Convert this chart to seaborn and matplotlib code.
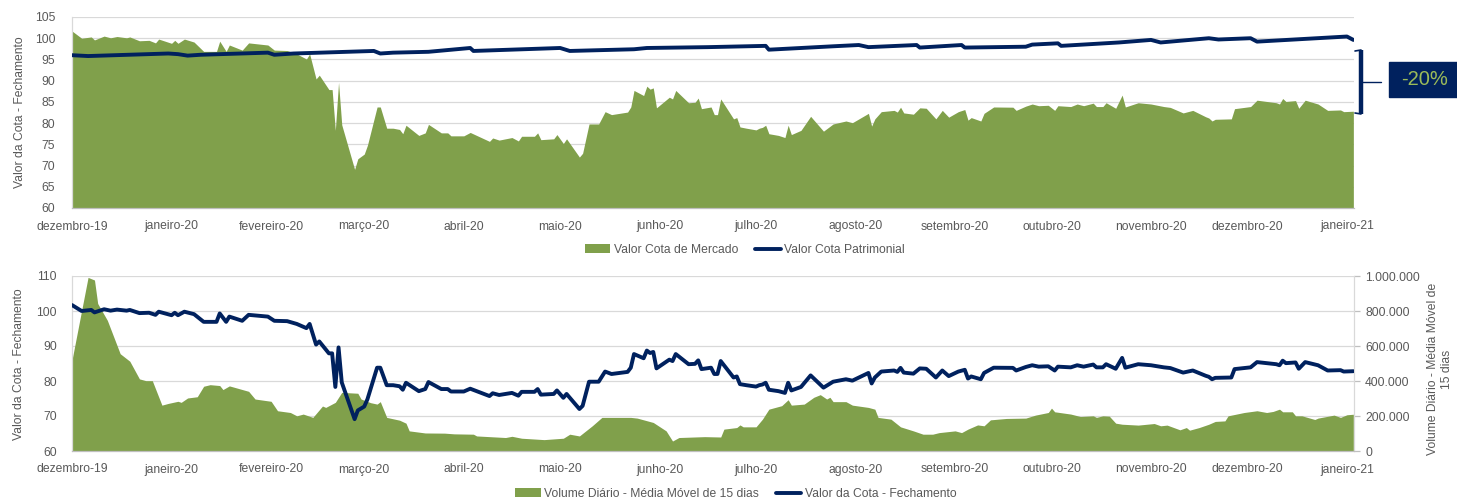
import numpy as np
import pandas as pd
import matplotlib
matplotlib.use("Agg")
import matplotlib.pyplot as plt
from matplotlib.lines import Line2D
from matplotlib.patches import Rectangle, Patch
from matplotlib.ticker import FuncFormatter
import seaborn as sns

# ---------------- data ----------------
START = pd.Timestamp("2019-12-01")

# Valor da Cota - Fechamento (market value), day offset from START
mkt_days = [0, 3, 6, 7, 10, 12, 14, 17, 18, 21,
            24, 26, 27, 31, 32, 33, 35, 38, 41, 45,
            46, 48, 49, 53, 55, 61, 63, 67, 70, 73,
            74, 76, 77, 80, 81, 82, 83, 84, 88, 89,
            91, 92, 95, 96, 98, 100, 102, 103, 104, 108,
            110, 111, 115, 117, 118, 122, 124, 130, 131, 133,
            137, 139, 140, 144, 145, 146, 150, 151, 153, 154,
            158, 159, 161, 164, 166, 168, 173, 174, 175, 178,
            179, 180, 181, 182, 186, 187, 188, 192, 194, 195,
            196, 199, 200, 201, 202, 206, 207, 208, 210, 213,
            214, 215, 216, 217, 220, 222, 223, 224, 227, 230,
            234, 237, 241, 243, 248, 249, 250, 252, 256, 257,
            258, 259, 262, 264, 266, 269, 271, 273, 276, 278,
            279, 280, 283, 284, 287, 293, 294, 297, 299, 301,
            304, 306, 307, 311, 313, 315, 318, 319, 321, 322,
            325, 327, 328, 332, 336, 340, 342, 346, 349, 353,
            354, 355, 356, 361, 362, 367, 369, 375, 376, 377,
            378, 381, 382, 384, 388, 391, 395, 396, 399]
mkt_vals = [101.7, 100.0, 100.3, 99.6, 100.5, 100.1, 100.4, 100.1, 100.3, 99.4,
            99.5, 98.9, 99.8, 98.8, 99.5, 98.8, 99.8, 99.1, 96.9, 96.9,
            99.3, 96.9, 98.4, 97.2, 98.9, 98.4, 97.2, 97.1, 96.3, 95.1,
            96.3, 90.4, 91.3, 87.9, 87.9, 78.3, 89.6, 79.6, 69.1, 71.6,
            72.7, 74.8, 83.8, 83.8, 78.8, 78.8, 78.5, 77.5, 79.5, 77.1,
            77.7, 79.7, 77.7, 77.7, 77.0, 77.0, 77.8, 75.7, 76.5, 76.0,
            76.6, 75.8, 76.9, 76.9, 77.7, 76.1, 76.3, 77.3, 75.2, 76.3,
            72.0, 72.9, 79.8, 79.8, 82.7, 82.0, 82.6, 83.8, 87.7, 86.5,
            88.7, 88.0, 88.3, 83.6, 86.1, 85.7, 87.7, 84.8, 84.9, 85.9,
            83.4, 83.8, 82.0, 82.0, 85.7, 81.0, 81.3, 79.1, 78.8, 78.4,
            78.8, 79.0, 79.5, 77.5, 77.1, 76.6, 79.5, 77.3, 78.3, 81.6,
            78.1, 79.8, 80.5, 80.1, 82.3, 79.3, 81.0, 82.7, 83.0, 82.6,
            83.75, 82.4, 82.1, 83.6, 83.5, 81.0, 83.0, 81.4, 82.7, 83.2,
            80.7, 81.3, 80.5, 82.3, 83.8, 83.75, 83.0, 84.0, 84.5, 84.1,
            84.2, 83.0, 84.1, 83.9, 84.5, 84.1, 84.7, 83.9, 83.9, 84.8,
            83.5, 86.6, 83.8, 84.8, 84.5, 83.9, 83.7, 82.4, 83.0, 81.5,
            81.2, 80.5, 80.9, 81.0, 83.4, 83.9, 85.4, 84.8, 84.5, 85.8,
            85.1, 85.3, 83.5, 85.4, 84.5, 83.0, 83.1, 82.7, 82.8]

# Valor Cota Patrimonial
pat_days = [0, 5, 30, 33, 36, 40, 61, 63, 69, 94, 96, 100, 111, 124, 125,
            152, 155, 175, 179, 198, 216, 217, 237, 245, 248, 263, 264, 277,
            278, 297, 299, 307, 308, 326, 336, 339, 354, 357, 367, 369, 397, 399]
pat_vals = [96.0, 95.8, 96.4, 96.25, 95.9, 96.1, 96.6, 96.1, 96.4, 97.0, 96.4,
            96.6, 96.8, 97.7, 97.0, 97.7, 97.0, 97.4, 97.7, 97.9, 98.2, 97.3,
            98.1, 98.4, 97.9, 98.4, 97.8, 98.4, 97.8, 98.0, 98.5, 98.8, 98.2,
            99.0, 99.6, 99.0, 100.0, 99.7, 100.0, 99.2, 100.4, 99.6]

# Volume Diário - Média Móvel de 15 dias (thousands)
vol_days = [0, 5, 7, 8, 11, 15, 18, 21, 23, 25,
            28, 30, 33, 34, 36, 39, 41, 43, 46, 47,
            49, 55, 57, 62, 64, 68, 70, 72, 75, 78,
            79, 82, 84, 89, 90, 93, 95, 96, 98, 102,
            104, 105, 110, 116, 119, 125, 126, 135, 137, 140,
            147, 153, 155, 158, 162, 165, 174, 176, 181, 185,
            187, 189, 197, 202, 203, 207, 208, 209, 213, 215,
            217, 221, 223, 224, 228, 231, 233, 235, 236, 237,
            241, 243, 248, 250, 251, 255, 258, 262, 265, 268,
            270, 275, 277, 279, 282, 284, 286, 291, 297, 300,
            304, 305, 306, 311, 314, 318, 319, 321, 323, 325,
            327, 332, 337, 339, 341, 345, 347, 348, 351, 354,
            356, 359, 360, 365, 369, 372, 374, 376, 377, 380,
            381, 383, 387, 388, 393, 395, 397, 399]
vol_vals_k = [520, 992, 977, 843, 747, 556, 513, 412, 402, 402,
              262, 272, 284, 278, 303, 310, 370, 379, 374, 351,
              372, 341, 297, 284, 230, 220, 201, 211, 192, 257,
              249, 278, 335, 330, 297, 276, 268, 282, 192, 176,
              159, 115, 103, 102, 98, 96, 86, 77, 84, 73,
              65, 73, 96, 86, 144, 192, 192, 188, 163, 115,
              57, 77, 82, 80, 125, 134, 149, 138, 138, 182,
              239, 259, 293, 262, 268, 307, 322, 297, 307, 282,
              282, 262, 249, 239, 192, 182, 138, 115, 96, 96,
              105, 115, 105, 125, 149, 144, 178, 186, 188, 205,
              220, 245, 224, 211, 197, 201, 192, 201, 199, 159,
              153, 148, 157, 144, 148, 121, 134, 119, 134, 153,
              169, 172, 201, 220, 230, 220, 226, 239, 224, 224,
              201, 201, 180, 188, 205, 192, 207, 210]

month_labels = ["dezembro-19", "janeiro-20", "fevereiro-20", "março-20", "abril-20",
                "maio-20", "junho-20", "julho-20", "agosto-20", "setembro-20",
                "outubro-20", "novembro-20", "dezembro-20", "janeiro-21"]

lbl_mkt_top = "Valor Cota de Mercado"
lbl_pat = "Valor Cota Patrimonial"
lbl_vol = "Volume Diário - Média Móvel de 15 dias"
lbl_close = "Valor da Cota - Fechamento"
ylabel_left = "Valor da Cota - Fechamento"
ylabel_right = "Volume Diário - Média Móvel de\n15 dias"
badge_text = "-20%"

# ---------------- frames ----------------
df_m = pd.DataFrame({"date": START + pd.to_timedelta(mkt_days, unit="D"), "value": mkt_vals})
df_p = pd.DataFrame({"date": START + pd.to_timedelta(pat_days, unit="D"), "value": pat_vals})
df_v = pd.DataFrame({"date": START + pd.to_timedelta(vol_days, unit="D"),
                     "value": np.array(vol_vals_k, dtype=float) * 1000})

# ---------------- style ----------------
sns.set_theme(style="white")
plt.rcParams["font.family"] = ["Liberation Sans", "DejaVu Sans"]

GREEN = "#80A04B"
NAVY = "#00215E"
TXT = "#595959"
GRID = "#D9D9D9"
AXL = "#BFBFBF"
FS = 8.7

W, H = 1457, 499
fig = plt.figure(figsize=(W / 100, H / 100), dpi=100)
fig.patch.set_facecolor("white")


def rect(l, t, r, b):
    return [l / W, 1 - b / H, (r - l) / W, (b - t) / H]


def fx(px):
    return px / W


def fy(py):
    return 1 - py / H


xmin = START
xmax = START + pd.Timedelta(days=399.2)
ticks = pd.date_range("2019-12-01", "2021-01-01", freq="MS")

# ---------------- top panel ----------------
ax1 = fig.add_axes(rect(72, 17, 1354, 208))
ax1.fill_between(df_m["date"], 60, df_m["value"], color=GREEN, lw=0, zorder=2,
                 label=lbl_mkt_top)
sns.lineplot(data=df_p, x="date", y="value", ax=ax1, color=NAVY, lw=2.8,
             label=lbl_pat, zorder=3)
ax1.set_xlim(xmin, xmax)
ax1.set_ylim(60, 105)
ax1.set_yticks(np.arange(60, 106, 5))
ax1.set_xticks(ticks)
ax1.set_xticklabels(month_labels)
ax1.set_xlabel("")
ax1.set_ylabel("")
ax1.yaxis.grid(True, color=GRID, lw=0.9)
ax1.set_axisbelow(True)
ax1.tick_params(axis="x", length=0, pad=9, labelsize=FS, labelcolor=TXT)
ax1.tick_params(axis="y", length=0, pad=12, labelsize=FS, labelcolor=TXT)
for s in ["top", "right"]:
    ax1.spines[s].set_visible(False)
ax1.spines["left"].set_color(GRID)
ax1.spines["bottom"].set_color(AXL)
ax1.spines["left"].set_linewidth(0.9)
ax1.spines["bottom"].set_linewidth(0.9)
if ax1.get_legend():
    ax1.get_legend().remove()

fig.text(fx(20), fy(112.5), ylabel_left, rotation=90, ha="center", va="center",
         fontsize=FS, color=TXT)

h1 = [Patch(facecolor=GREEN, edgecolor="none"), Line2D([], [], color=NAVY, lw=2.8)]
fig.legend(h1, [lbl_mkt_top, lbl_pat], loc="center", bbox_to_anchor=(fx(745), fy(250)),
           ncol=2, frameon=False, fontsize=FS, labelcolor=TXT, handlelength=2.1,
           handletextpad=0.3, columnspacing=1.4, handleheight=0.8)

# bracket and badge
fig.add_artist(Line2D([fx(1361), fx(1361)], [fy(50), fy(114)], color=NAVY, lw=3.2,
                      solid_capstyle="butt"))
fig.add_artist(Line2D([fx(1355), fx(1361)], [fy(51), fy(50)], color=NAVY, lw=1.2))
fig.add_artist(Line2D([fx(1355), fx(1361)], [fy(113), fy(114)], color=NAVY, lw=1.2))
fig.add_artist(Line2D([fx(1362), fx(1381)], [fy(82), fy(82)], color=NAVY, lw=1.0))
fig.add_artist(Rectangle((fx(1389), fy(97)), (1457 - 1389) / W, 35 / H,
                         transform=fig.transFigure, facecolor=NAVY, edgecolor=NAVY))
fig.text(fx(1425), fy(80), badge_text, ha="center", va="center", fontsize=14.5,
         color="#9BBB59")

# ---------------- bottom panel ----------------
ax2 = fig.add_axes(rect(72, 276, 1354, 451))
axv = ax2.twinx()
axv.set_zorder(ax2.get_zorder() - 1)
ax2.patch.set_visible(False)

axv.fill_between(df_v["date"], 0, df_v["value"], color=GREEN, lw=0, zorder=2,
                 label=lbl_vol)
axv.set_ylim(0, 1_000_000)
axv.set_yticks(np.arange(0, 1_000_001, 200_000))
axv.yaxis.set_major_formatter(FuncFormatter(lambda v, p: f"{int(round(v)):,}".replace(",", ".")))
axv.yaxis.grid(True, color=GRID, lw=0.9)
axv.set_axisbelow(True)
axv.tick_params(axis="y", length=4, width=0.9, color=AXL, pad=4, labelsize=FS, labelcolor=TXT)
for s in ["top", "left", "bottom"]:
    axv.spines[s].set_visible(False)
axv.spines["right"].set_color(GRID)
axv.spines["right"].set_linewidth(0.9)

sns.lineplot(data=df_m, x="date", y="value", ax=ax2, color=NAVY, lw=2.8,
             label=lbl_close, zorder=3)
ax2.set_xlim(xmin, xmax)
ax2.set_ylim(60, 110)
ax2.set_yticks(np.arange(60, 111, 10))
ax2.set_xticks(ticks)
ax2.set_xticklabels(month_labels)
ax2.set_xlabel("")
ax2.set_ylabel("")
ax2.tick_params(axis="x", length=0, pad=9, labelsize=FS, labelcolor=TXT)
ax2.tick_params(axis="y", length=0, pad=11, labelsize=FS, labelcolor=TXT)
for s in ["top", "right"]:
    ax2.spines[s].set_visible(False)
ax2.spines["left"].set_color(GRID)
ax2.spines["bottom"].set_color(AXL)
ax2.spines["left"].set_linewidth(0.9)
ax2.spines["bottom"].set_linewidth(0.9)
if ax2.get_legend():
    ax2.get_legend().remove()

fig.text(fx(19), fy(364), ylabel_left, rotation=90, ha="center", va="center",
         fontsize=FS, color=TXT)
fig.text(fx(1440), fy(369), ylabel_right, rotation=90, ha="center", va="center",
         fontsize=FS, color=TXT, multialignment="center", linespacing=1.3)

h2 = [Patch(facecolor=GREEN, edgecolor="none"), Line2D([], [], color=NAVY, lw=2.8)]
fig.legend(h2, [lbl_vol, lbl_close], loc="center", bbox_to_anchor=(fx(736), fy(494)),
           ncol=2, frameon=False, fontsize=FS, labelcolor=TXT, handlelength=2.1,
           handletextpad=0.3, columnspacing=1.4, handleheight=0.8)

fig.savefig("out.png", dpi=100, facecolor="white")
